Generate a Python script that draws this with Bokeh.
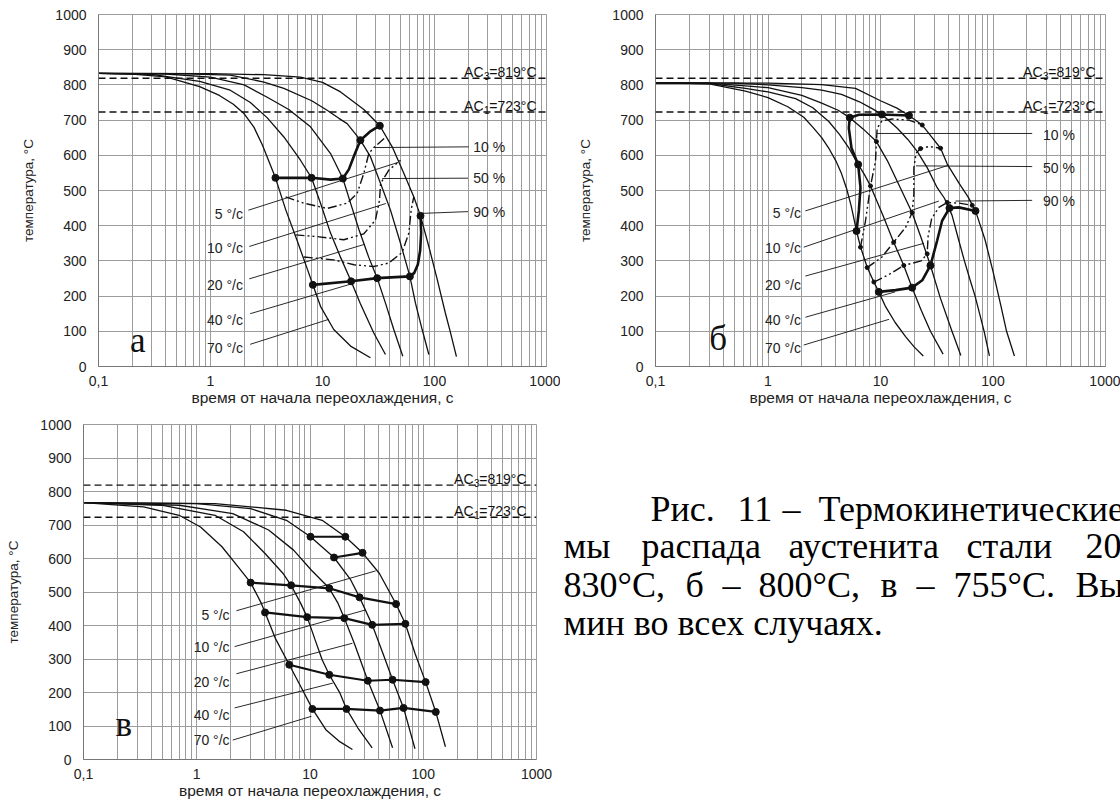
from bokeh.plotting import figure
from bokeh.models import FixedTicker, CustomJSTickFormatter, Range1d, Span
from bokeh.layouts import column, row
from bokeh.core.properties import value
from bokeh.embed import file_html
from bokeh.resources import INLINE

# ---------------- shared texts / ticks ----------------
X_TITLE = "время от начала переохлаждения, с"
Y_TITLE = "температура, °С"
RATE_LABELS = ["5 °/c", "10 °/c", "20 °/c", "40 °/c", "70 °/c"]
PCT_LABELS = ["10 %", "50 %", "90 %"]
AC_VALUES = [819, 723]
AC_SUBS = ["3", "1"]
X_MAJOR = [0.1, 1, 10, 100, 1000]
X_MINOR = [m * d for d in [0.1, 1, 10, 100] for m in range(2, 10)]
Y_TICKS = list(range(0, 1001, 100))

# ---------------- panel a (830 °C) ----------------
A70_t = [0.1, 0.2, 0.4, 0.8, 1.2, 1.6, 2.0, 2.44, 2.9, 3.3, 3.8, 4.7, 5.9, 7.3, 8.2, 9.6, 12.6, 17.8, 26.8]
A70_T = [833, 831, 823, 795, 770, 745, 718, 680, 630, 585, 536, 445, 360, 278, 232, 171, 105, 58, 25]
A40_t = [0.1, 0.3, 0.8, 1.5, 2.27, 3.2, 4.52, 6.36, 7.98, 9.6, 11.8, 14.5, 18.0, 21.8, 28.7, 36.5]
A40_T = [833, 830, 810, 785, 750, 707, 652, 586, 536, 464, 379, 310, 242, 178, 95, 34]
A20_t = [0.1, 0.4, 1.0, 2.0, 3.21, 5.0, 7.81, 11.8, 15.2, 17.8, 21.1, 25.9, 30.8, 36.5, 43.3, 52.1]
A20_T = [833, 831, 822, 800, 765, 730, 681, 605, 534, 464, 390, 310, 251, 180, 105, 29]
A10_t = [0.1, 0.5, 1.5, 3.0, 4.52, 8.0, 11.0, 14.0, 16.6, 21.8, 26.8, 33.0, 40.4, 49.7, 60.3, 67.6, 77.6, 89]
A10_T = [833, 832, 828, 808, 790, 755, 728, 705, 690, 643, 596, 520, 445, 350, 256, 180, 105, 34]
A5_t = [0.1, 1.0, 3.0, 6.36, 10.0, 14.5, 23.4, 32.5, 41.9, 53.2, 65.3, 75, 89, 106, 125, 138, 157]
A5_T = [833, 832, 829, 822, 807, 780, 730, 684, 624, 549, 482, 428, 341, 246, 152, 100, 28]

A_UP_t = [3.80, 7.98, 11.8, 15.2, 17.2, 19.1, 21.8, 26.5, 32.5]
A_UP_T = [536, 536, 531, 534, 560, 598, 643, 667, 684]
A_LO_t = [8.2, 18.0, 30.8, 60.3, 66, 71, 74.5, 76, 75]
A_LO_T = [232, 242, 251, 256, 266, 290, 330, 380, 428]
A_DOT_t = [3.80, 7.98, 15.2, 21.8, 32.5, 8.2, 18.0, 30.8, 60.3, 75]
A_DOT_T = [536, 536, 534, 643, 684, 232, 242, 251, 256, 428]

A_D1_t = [4.68, 6.8, 11.0, 16.6, 20.4, 23.4, 25.9, 28.7, 36.5]
A_D1_T = [482, 464, 449, 464, 492, 549, 605, 622, 651]
A_D2_t = [5.74, 8.96, 15.5, 23.4, 29.7, 32.3, 33.0, 39.1, 49.7]
A_D2_T = [374, 369, 360, 377, 416, 473, 520, 558, 586]
A_D3_t = [6.81, 12.6, 19.1, 28.7, 39.1, 51.4, 59.0, 61.9, 65.3]
A_D3_T = [311, 303, 289, 284, 294, 324, 379, 445, 482]

A_RL_t0 = [2.18, 2.22, 2.22, 2.26, 2.26]
A_RL_T0 = [444, 341, 249, 150, 63]
A_RL_t1 = [47.5, 36.8, 23.7, 18.3, 11.4]
A_RL_T1 = [580, 463, 347, 235, 134]
A_RLAB_t = 1.95
A_RLAB_T = [432, 338, 232, 131, 52]
A_PL_t0 = [28.7, 34.1, 77.6]
A_PL_T0 = [622, 534, 435]
A_PL_t1 = [202, 199, 199]
A_PL_T1 = [624, 535, 440]
A_PLAB_t = 222
A_PLAB_T = [625, 535, 440]
A_LETTER = ("а", 0.224, 75)

# ---------------- panel б (800 °C) ----------------
B70_t = [0.1, 0.3, 0.63, 1.0, 1.5, 2.08, 2.5, 3.0, 3.5, 4.0, 4.5, 5.0, 5.5, 6.12, 6.64, 7.61, 8.73, 9.66, 11.1, 13.5, 16.7, 20, 24]
B70_T = [806, 803, 782, 764, 738, 708, 680, 650, 618, 585, 548, 505, 455, 385, 340, 282, 240, 212, 170, 125, 85, 55, 30]
B40_t = [0.1, 0.3, 0.63, 1.0, 1.76, 2.5, 3.47, 4.3, 5.23, 6.33, 7.2, 8.15, 10.5, 13.1, 16.1, 19.1, 23, 27.8, 36]
B40_T = [806, 804, 790, 780, 761, 735, 696, 660, 621, 574, 545, 513, 430, 353, 287, 224, 160, 100, 35]
B20_t = [0.1, 0.3, 0.63, 1.0, 2.0, 3.0, 4.2, 5.33, 7.0, 9.2, 11.5, 13.6, 16.2, 19.1, 23.0, 27.8, 34, 43.2, 51.8]
B20_T = [806, 805, 797, 792, 770, 748, 728, 707, 675, 639, 585, 536, 485, 437, 365, 287, 195, 100, 31]
B10_t = [0.1, 0.5, 1.0, 2.0, 3.0, 4.5, 6.5, 8.5, 10.3, 14.1, 17.5, 21.2, 26, 31.9, 37, 43.2, 49, 55.7, 62, 69.3, 76, 83.4, 93]
B10_T = [806, 805, 800, 792, 785, 773, 752, 732, 716, 677, 645, 611, 565, 508, 478, 430, 365, 300, 250, 200, 150, 100, 30]
B5_t = [0.1, 1.0, 3.0, 6.0, 10.0, 14, 17.9, 23.5, 28, 34.2, 39.2, 50, 60, 69.9, 85, 100, 118, 132, 155]
B5_T = [806, 805, 801, 790, 755, 734, 713, 686, 655, 620, 575, 520, 482, 442, 360, 270, 170, 100, 30]

B_UP_t = [6.12, 6.42, 6.64, 6.33, 5.52, 5.23, 5.33, 6.42, 10.3, 17.9]
B_UP_T = [385, 442, 508, 574, 621, 677, 707, 715, 716, 713]
B_LO_t = [9.66, 13.6, 19.1, 23.5, 27.8, 31.9, 35.3, 41.0, 49.7, 69.9]
B_LO_T = [212, 217, 224, 245, 287, 358, 414, 450, 452, 442]
B_DOT_t = [6.12, 6.33, 5.33, 10.3, 17.9, 9.66, 19.1, 27.8, 41.0, 69.9]
B_DOT_T = [385, 574, 707, 716, 713, 212, 224, 287, 450, 442]

B_D1_t = [6.64, 7.36, 8.15, 9.03, 9.2, 9.34, 10.3, 12.7, 17.9, 23.5]
B_D1_T = [339, 414, 513, 583, 639, 677, 698, 703, 700, 686]
B_D2_t = [7.61, 10.3, 13.1, 16.7, 19.1, 19.8, 19.8, 20.7, 22.7, 26.9, 34.2]
B_D2_T = [281, 311, 353, 395, 437, 489, 564, 606, 619, 625, 620]
B_D3_t = [8.73, 12.0, 16.1, 23.0, 26.0, 26.5, 28.5, 33.0, 39.2, 50.0, 65.3]
B_D3_T = [240, 262, 287, 300, 320, 370, 420, 452, 466, 464, 458]
B_SDOT_t = [6.64, 8.15, 9.2, 23.5, 7.61, 13.1, 19.1, 22.7, 34.2, 8.73, 16.1, 26.0, 39.2, 65.3]
B_SDOT_T = [339, 513, 639, 686, 281, 353, 437, 619, 620, 240, 287, 320, 466, 458]

B_RL_t0 = [2.15, 2.08, 2.15, 2.15, 2.08]
B_RL_T0 = [442, 339, 257, 140, 61]
B_RL_t1 = [40.5, 33.0, 24.3, 13.5, 11.9]
B_RL_T1 = [572, 470, 350, 212, 134]
B_RLAB_t = 1.96
B_RLAB_T = [435, 336, 231, 131, 53]
B_PL_t0 = [9.3, 20.7, 46.4]
B_PL_T0 = [662, 570, 470]
B_PL_t1 = [223, 223, 223]
B_PL_T1 = [662, 568, 472]
B_PLAB_t = 278
B_PLAB_T = [657, 565, 470]
B_LETTER = ("б", 0.36, 79)

# ---------------- panel в (755 °C) ----------------
C70_t = [0.1, 0.339, 0.70, 1.08, 1.67, 2.32, 2.99, 3.72, 4.01, 4.97, 6.56, 8.28, 10.5, 13.8, 18, 23.7]
C70_T = [767, 754, 729, 694, 635, 575, 528, 466, 439, 360, 283, 218, 151, 89, 55, 30]
C40_t = [0.1, 0.488, 1.45, 2.59, 4.01, 5.76, 6.81, 8.28, 9.44, 11.1, 12.8, 14.8, 18.4, 21.0, 26.5, 35.4]
C40_T = [767, 759, 729, 680, 615, 556, 520, 466, 425, 357, 298, 253, 198, 151, 94, 35]
C20_t = [0.1, 0.70, 2.08, 4.31, 7.16, 10.3, 14.8, 17.7, 20.1, 24.6, 32.4, 41.5, 53.6]
C20_T = [767, 759, 734, 685, 625, 565, 511, 466, 422, 347, 235, 146, 35]
C10_t = [0.1, 1.0, 2.99, 6.19, 10.1, 16.3, 22.9, 27.4, 35.4, 44.0, 53.6, 67.0, 84.5]
C10_T = [767, 764, 749, 714, 665, 603, 536, 484, 402, 317, 238, 154, 32]
C5_t = [0.1, 1.45, 6.19, 12.8, 20.5, 29.1, 40.9, 57.5, 69.5, 84.5, 105, 129, 157]
C5_T = [767, 764, 744, 714, 665, 617, 556, 464, 405, 317, 231, 142, 38]

C_R1_t = [10.1, 20.5]
C_R1_T = [665, 665]
C_R2_t = [16.3, 29.1]
C_R2_T = [603, 617]
C_R3_t = [2.99, 6.81, 14.8, 27.4, 57.5]
C_R3_T = [528, 520, 511, 484, 464]
C_R4_t = [4.01, 9.44, 20.1, 35.4, 69.5]
C_R4_T = [439, 425, 422, 402, 405]
C_R5_t = [6.56, 14.8, 32.4, 53.6, 105]
C_R5_T = [283, 253, 235, 238, 231]
C_R6_t = [10.5, 21.0, 41.5, 67.0, 129]
C_R6_T = [151, 151, 146, 154, 142]

C_RL_t0 = [2.24, 2.16, 2.24, 2.16, 2.08]
C_RL_T0 = [444, 337, 256, 154, 58]
C_RL_t1 = [38, 30.6, 23.7, 15.9, 10.3]
C_RL_T1 = [563, 446, 347, 228, 129]
C_RLAB_t = 1.95
C_RLAB_T = [432, 335, 230, 134, 58]
C_LETTER = ("в", 0.227, 104)

# ---------------- caption ----------------
CAP_L1 = ["Рис.", "11", "–", "Термокинетические"]
CAP_L2 = ["мы", "распада", "аустенита", "стали", "20"]
CAP_L3 = ["830°С,", "б", "–", "800°С,", "в", "–", "755°С.", "Вы"]
CAP_L4 = ["мин во всех случаях."]

# ---------------- styling ----------------
GRID = "#9c9c9c"
INK = "#111111"
SANS = "Liberation Sans"
SERIF = "Liberation Serif"
DASHDOT = "9 3 2 3 2 3"


def base_fig(width, height, bl, br, bt, bb):
    p = figure(width=width, height=height, x_axis_type="log",
               x_range=Range1d(0.1, 1000), y_range=Range1d(0, 1000),
               output_backend="svg", toolbar_location=None,
               min_border_left=bl, min_border_right=br,
               min_border_top=bt, min_border_bottom=bb,
               background_fill_color="white", border_fill_color="white")
    p.outline_line_color = GRID
    xa, ya = p.xaxis[0], p.yaxis[0]
    xa.ticker = FixedTicker(ticks=X_MAJOR, minor_ticks=X_MINOR)
    ya.ticker = FixedTicker(ticks=Y_TICKS)
    xa.formatter = CustomJSTickFormatter(
        code="return tick < 0.5 ? '0,1' : String(Math.round(tick));")
    p.xgrid.grid_line_color = GRID
    p.xgrid.minor_grid_line_color = GRID
    p.ygrid.grid_line_color = GRID
    xa.axis_label = X_TITLE
    ya.axis_label = Y_TITLE
    for ax in (xa, ya):
        ax.major_tick_out = 0
        ax.major_tick_in = 0
        ax.minor_tick_out = 0
        ax.minor_tick_in = 0
        ax.axis_line_color = "#777777"
        ax.major_label_text_font = SANS
        ax.major_label_text_font_size = "14px"
        ax.major_label_text_color = "#222222"
        ax.axis_label_text_font = SANS
        ax.axis_label_text_font_style = "normal"
        ax.axis_label_text_color = "#222222"
    xa.axis_label_text_font_size = "15.5px"
    ya.axis_label_text_font_size = "13.5px"
    xa.major_label_standoff = 9
    xa.axis_label_standoff = 0
    ya.major_label_standoff = 12
    ya.axis_label_standoff = 16
    return p


def add_ac(p):
    for val, sub in zip(AC_VALUES, AC_SUBS):
        p.add_layout(Span(location=val, dimension="width", line_color=INK,
                          line_width=1.4, line_dash="7 4"))
        kw = dict(text_font=value(SANS), text_color=INK, text_align="right",
                  text_baseline="alphabetic")
        p.text(x=[1000], y=[val], text=["=%d°C" % val], x_offset=-10, y_offset=-6,
               text_font_size="14px", **kw)
        p.text(x=[1000], y=[val], text=[sub], x_offset=-57, y_offset=-2,
               text_font_size="10px", **kw)
        p.text(x=[1000], y=[val], text=["AC"], x_offset=-63, y_offset=-6,
               text_font_size="14px", **kw)


def add_curves(p, curves):
    for t, T in curves:
        p.line(t, T, line_color=INK, line_width=1.3)


def add_rate_labels(p, t0, T0, t1, T1, lab_t, lab_T):
    p.segment(x0=t0, y0=T0, x1=t1, y1=T1, line_color=INK, line_width=0.9)
    p.text(x=[lab_t] * len(lab_T), y=lab_T, text=RATE_LABELS,
           text_font=value(SANS), text_font_size="14px", text_color="#222222",
           text_align="right", text_baseline="middle")


def add_pct_labels(p, t0, T0, t1, T1, lab_t, lab_T):
    p.segment(x0=t0, y0=T0, x1=t1, y1=T1, line_color=INK, line_width=0.9)
    p.text(x=[lab_t] * len(lab_T), y=lab_T, text=PCT_LABELS,
           text_font=value(SANS), text_font_size="14px", text_color="#222222",
           text_align="left", text_baseline="middle")


def add_letter(p, letter):
    s, t, T = letter
    p.text(x=[t], y=[T], text=[s], text_font=value(SERIF), text_font_size="35px",
           text_color=INK, text_align="center", text_baseline="middle")


# ---- panel a
fa = base_fig(560, 410, 98, 14, 14, 44)
add_ac(fa)
add_curves(fa, [(A70_t, A70_T), (A40_t, A40_T), (A20_t, A20_T), (A10_t, A10_T), (A5_t, A5_T)])
for t, T in [(A_D1_t, A_D1_T), (A_D2_t, A_D2_T), (A_D3_t, A_D3_T)]:
    fa.line(t, T, line_color=INK, line_width=1.4, line_dash=DASHDOT)
for t, T in [(A_UP_t, A_UP_T), (A_LO_t, A_LO_T)]:
    fa.line(t, T, line_color=INK, line_width=2.6)
fa.scatter(A_DOT_t, A_DOT_T, size=7, color=INK)
add_rate_labels(fa, A_RL_t0, A_RL_T0, A_RL_t1, A_RL_T1, A_RLAB_t, A_RLAB_T)
add_pct_labels(fa, A_PL_t0, A_PL_T0, A_PL_t1, A_PL_T1, A_PLAB_t, A_PLAB_T)
add_letter(fa, A_LETTER)

# ---- panel б
fb = base_fig(560, 410, 95, 15, 12, 44)
add_ac(fb)
add_curves(fb, [(B70_t, B70_T), (B40_t, B40_T), (B20_t, B20_T), (B10_t, B10_T), (B5_t, B5_T)])
for t, T in [(B_D1_t, B_D1_T), (B_D2_t, B_D2_T), (B_D3_t, B_D3_T)]:
    fb.line(t, T, line_color=INK, line_width=1.4, line_dash=DASHDOT)
fb.scatter(B_SDOT_t, B_SDOT_T, size=4, color=INK)
for t, T in [(B_UP_t, B_UP_T), (B_LO_t, B_LO_T)]:
    fb.line(t, T, line_color=INK, line_width=2.6)
fb.scatter(B_DOT_t, B_DOT_T, size=7, color=INK)
add_rate_labels(fb, B_RL_t0, B_RL_T0, B_RL_t1, B_RL_T1, B_RLAB_t, B_RLAB_T)
add_pct_labels(fb, B_PL_t0, B_PL_T0, B_PL_t1, B_PL_T1, B_PLAB_t, B_PLAB_T)
add_letter(fb, B_LETTER)

# ---- panel в
fc = base_fig(560, 393, 83, 24, 14, 44)
add_ac(fc)
add_curves(fc, [(C70_t, C70_T), (C40_t, C40_T), (C20_t, C20_T), (C10_t, C10_T), (C5_t, C5_T)])
for t, T in [(C_R1_t, C_R1_T), (C_R2_t, C_R2_T), (C_R3_t, C_R3_T),
             (C_R4_t, C_R4_T), (C_R5_t, C_R5_T), (C_R6_t, C_R6_T)]:
    fc.line(t, T, line_color=INK, line_width=2.2)
    fc.scatter(t, T, size=7, color=INK)
add_rate_labels(fc, C_RL_t0, C_RL_T0, C_RL_t1, C_RL_T1, C_RLAB_t, C_RLAB_T)
add_letter(fc, C_LETTER)

# ---- caption area (coordinates in pixels of this 560x393 box; justified lines)
ft = figure(width=560, height=393, x_range=Range1d(0, 560), y_range=Range1d(393, 0),
            output_backend="svg", toolbar_location=None,
            min_border_left=0, min_border_right=0, min_border_top=0, min_border_bottom=0,
            background_fill_color="white", border_fill_color="white")
ft.axis.visible = False
ft.grid.visible = False
ft.outline_line_color = None
cap_kw = dict(text_font=value(SERIF), text_font_size="36px", text_color="#000000",
              text_align="left", text_baseline="alphabetic")
lines = [(CAP_L1, [90, 177, 222, 258], 99),
         (CAP_L2, [3, 81, 228, 406, 525], 143),
         (CAP_L3, [3, 125, 162, 198, 320, 356, 393, 515], 188),
         (CAP_L4, [3], 233)]
for words, xs, yb in lines:
    ft.text(x=xs, y=[yb] * len(words), text=words, **cap_kw)

layout = column(row(fa, fb), row(fc, ft))
open("out.html", "w").write(file_html(layout, INLINE))
